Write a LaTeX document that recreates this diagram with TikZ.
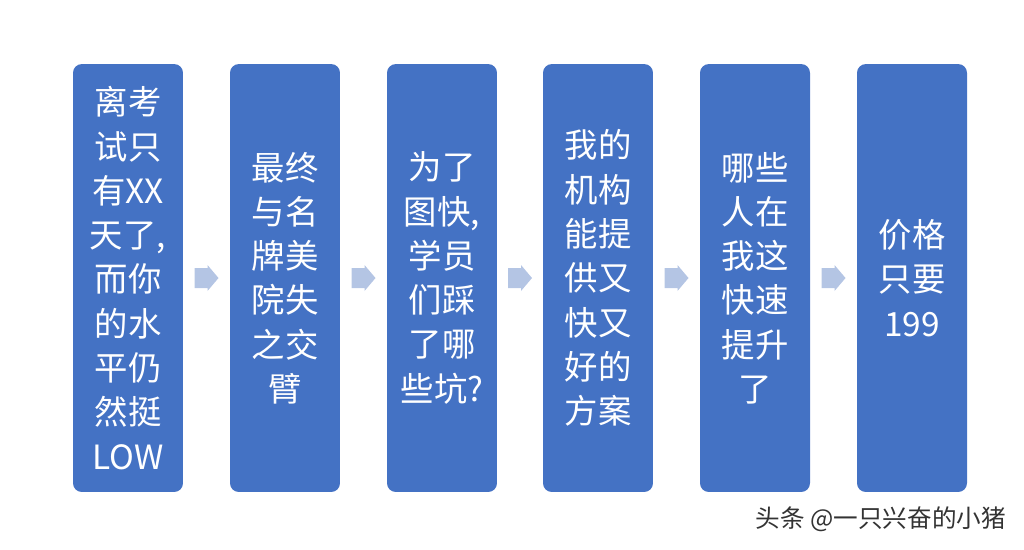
\documentclass[tikz,border=0pt]{standalone}
\usepackage{fontspec}
\setmainfont{Noto Sans CJK SC}
\begin{document}
\begin{tikzpicture}[x=0.02cm,y=-0.02cm,
  stepbox/.style={fill=boxblue,rounded corners=5pt,minimum width=2.2cm,minimum height=8.56cm,inner sep=0pt,text=white,align=center,font=\fontsize{19pt}{25.2pt}\selectfont},
  chev/.style={fill=arrowblue,draw=none}]
\definecolor{boxblue}{HTML}{4472C4}
\definecolor{arrowblue}{HTML}{B4C5E4}
\useasboundingbox (0,0) rectangle (1024,549);
\node[stepbox] (b1) at (128,278) {离考\\试只\\有XX\\天了,\\而你\\的水\\平仍\\然挺\\LOW};
\node[stepbox] (b2) at (285,278) {最终\\与名\\牌美\\院失\\之交\\臂};
\node[stepbox] (b3) at (442,278) {为了\\图快,\\学员\\们踩\\了哪\\些坑?};
\node[stepbox] (b4) at (598,278) {我的\\机构\\能提\\供又\\快又\\好的\\方案};
\node[stepbox] (b5) at (755,278) {哪些\\人在\\我这\\快速\\提升\\了};
\node[stepbox] (b6) at (912,278) {价格\\只要\\199};
\foreach \a/\b in {b1/b2,b2/b3,b3/b4,b4/b5,b5/b6}{
  \path (\a.east) -- (\b.west) coordinate[pos=0.5] (m\a);
  \fill[chev] ([xshift=-12*0.02cm,yshift=0.2cm]m\a) -- ([xshift=0.02cm,yshift=0.2cm]m\a) -- ([xshift=0.02cm,yshift=0.26cm]m\a) -- ([xshift=12*0.02cm]m\a) -- ([xshift=0.02cm,yshift=-0.26cm]m\a) -- ([xshift=0.02cm,yshift=-0.2cm]m\a) -- ([xshift=-12*0.02cm,yshift=-0.2cm]m\a) -- cycle;
}
\node[anchor=east,text=black!80,font=\fontsize{14pt}{16pt}\selectfont] (wm) at (1012,519) {头条 @一只兴奋的小猪};
\end{tikzpicture}
\end{document}
